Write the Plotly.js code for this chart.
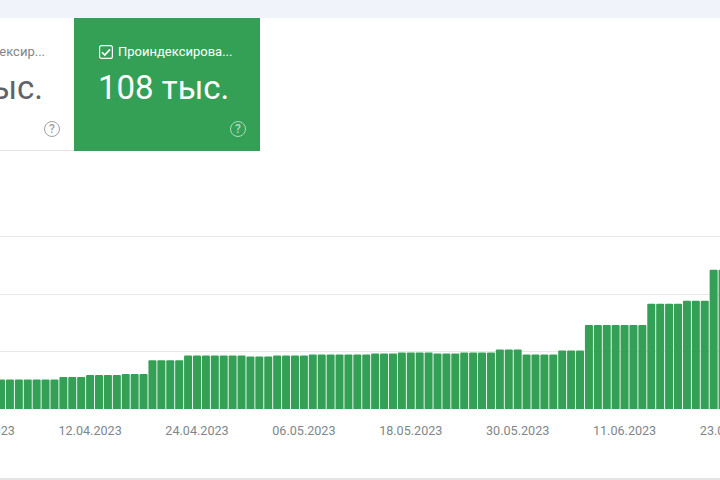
<!DOCTYPE html>
<html>
<head>
<meta charset="utf-8">
<script src="https://cdn.plot.ly/plotly-3.0.1.min.js"></script>
<style>
  html, body { margin: 0; padding: 0; background: #fff; width: 720px; height: 480px; overflow: hidden; font-family: Roboto, sans-serif; }
  #topband { position: absolute; left: 0; top: 0; width: 720px; height: 18px; background: #f1f3fa; }
  #bottomline { position: absolute; left: 0; top: 478px; width: 720px; height: 2px; background: #e4e4e4; }
  #graph { position: absolute; left: -60px; top: 0; width: 840px; height: 480px; }
  .card { position: absolute; top: 18px; height: 133px; overflow: hidden; z-index: 2; }
  #card1 { left: 0; width: 74px; height: 132px; background: #fff; border-bottom: 1px solid #e4e4e4; color: #5f6368; }
  #card2 { left: 74px; width: 186px; background: #34a056; color: #fff; }
  .label { position: absolute; top: 26px; font-size: 13px; line-height: 16px; white-space: nowrap; }
  .big { position: absolute; top: 49px; font-size: 33px; line-height: 42px; white-space: nowrap; }
  .help { position: absolute; top: 103px; width: 14px; height: 14px; border: 1.5px solid; border-radius: 50%; font-size: 12px; font-weight: 500; line-height: 14px; text-align: center; opacity: .6; }
  #check { position: absolute; left: 25px; top: 27px; }
</style>
</head>
<body>
<div id="topband"></div>
<div id="graph"></div>
<div id="card1" class="card">
  <div class="label" style="right:29px;color:#80868b">Не проиндексир...</div>
  <div class="big" style="right:31px">тыс.</div>
  <div class="help" style="left:44px;color:#5f6368">?</div>
</div>
<div id="card2" class="card">
  <svg id="check" width="14" height="14" viewBox="0 0 14 14">
    <rect x="0.6" y="0.6" width="12.8" height="12.8" rx="2" fill="none" stroke="#fff" stroke-width="1.2"/>
    <path d="M3 7.2 L5.8 10 L11 4.4" fill="none" stroke="#fff" stroke-width="1.6"/>
  </svg>
  <div class="label" style="left:44px">Проиндексирова...</div>
  <div class="big" style="left:24px">108 тыс.</div>
  <div class="help" style="left:156px;color:#fff">?</div>
</div>
<div id="bottomline"></div>

<script>
// Indexed pages per day, in thousands (first bar 02.04.2023)
const firstDay = "2023-04-02";
const indexed = [
  20.6, 20.6, 20.6, 20.6, 20.6, 20.6, 20.6, 22.3, 22.3, 22.3,
  23.7, 23.7, 23.7, 23.7, 24.4, 24.4, 24.4, 33.9, 33.9, 33.9,
  33.9, 37.3, 37.3, 37.3, 37.3, 37.3, 37.3, 37.3, 36.6, 36.6,
  36.6, 37.3, 37.3, 37.3, 37.3, 38, 38, 38, 38, 38,
  38, 38, 38.7, 38.7, 38.7, 39.4, 39.4, 39.4, 39.4, 38.7,
  38.7, 38.7, 39.4, 39.4, 39.4, 39.4, 41.5, 41.5, 41.5, 38,
  38, 38, 38, 40.8, 40.8, 40.8, 58.6, 58.6, 58.6, 58.6,
  58.6, 58.6, 58.6, 73.3, 73.3, 73.3, 73.3, 75.4, 75.4, 75.4,
  97, 97
];

const tickDates = ["2023-03-31", "2023-04-12", "2023-04-24", "2023-05-06", "2023-05-18", "2023-05-30", "2023-06-11", "2023-06-23"];
const tickLabels = ["31.03.2023", "12.04.2023", "24.04.2023", "06.05.2023", "18.05.2023", "30.05.2023", "11.06.2023", "23.06.2023"];
const gridValues = [0, 40, 80, 120];

Plotly.newPlot("graph", [
  {
    type: "bar",
    x0: firstDay,
    dx: 86400000,
    y: indexed,
    marker: { color: "#34a056", cornerradius: 1 },
    hoverinfo: "skip"
  }
], {
  width: 840,
  height: 480,
  margin: { l: 0, r: 0, t: 234, b: 71 },
  paper_bgcolor: "rgba(0,0,0,0)",
  plot_bgcolor: "rgba(0,0,0,0)",
  bargap: 0.1,
  showlegend: false,
  font: { family: "Roboto, sans-serif" },
  xaxis: {
    type: "date",
    range: ["2023-03-26 03:36", "2023-06-28 10:48"],
    tickmode: "array",
    tickvals: tickDates,
    ticktext: tickLabels,
    tickfont: { size: 12.6, color: "#80868b" },
    ticklabelstandoff: 12,
    ticks: "",
    showgrid: false,
    showline: false,
    zeroline: false
  },
  yaxis: {
    range: [0, 122],
    tickmode: "array",
    tickvals: gridValues,
    showticklabels: false,
    ticks: "",
    gridcolor: "#e8e8e8",
    gridwidth: 1,
    zeroline: false,
    showline: false
  }
}, { displayModeBar: false, staticPlot: true });
</script>
</body>
</html>
